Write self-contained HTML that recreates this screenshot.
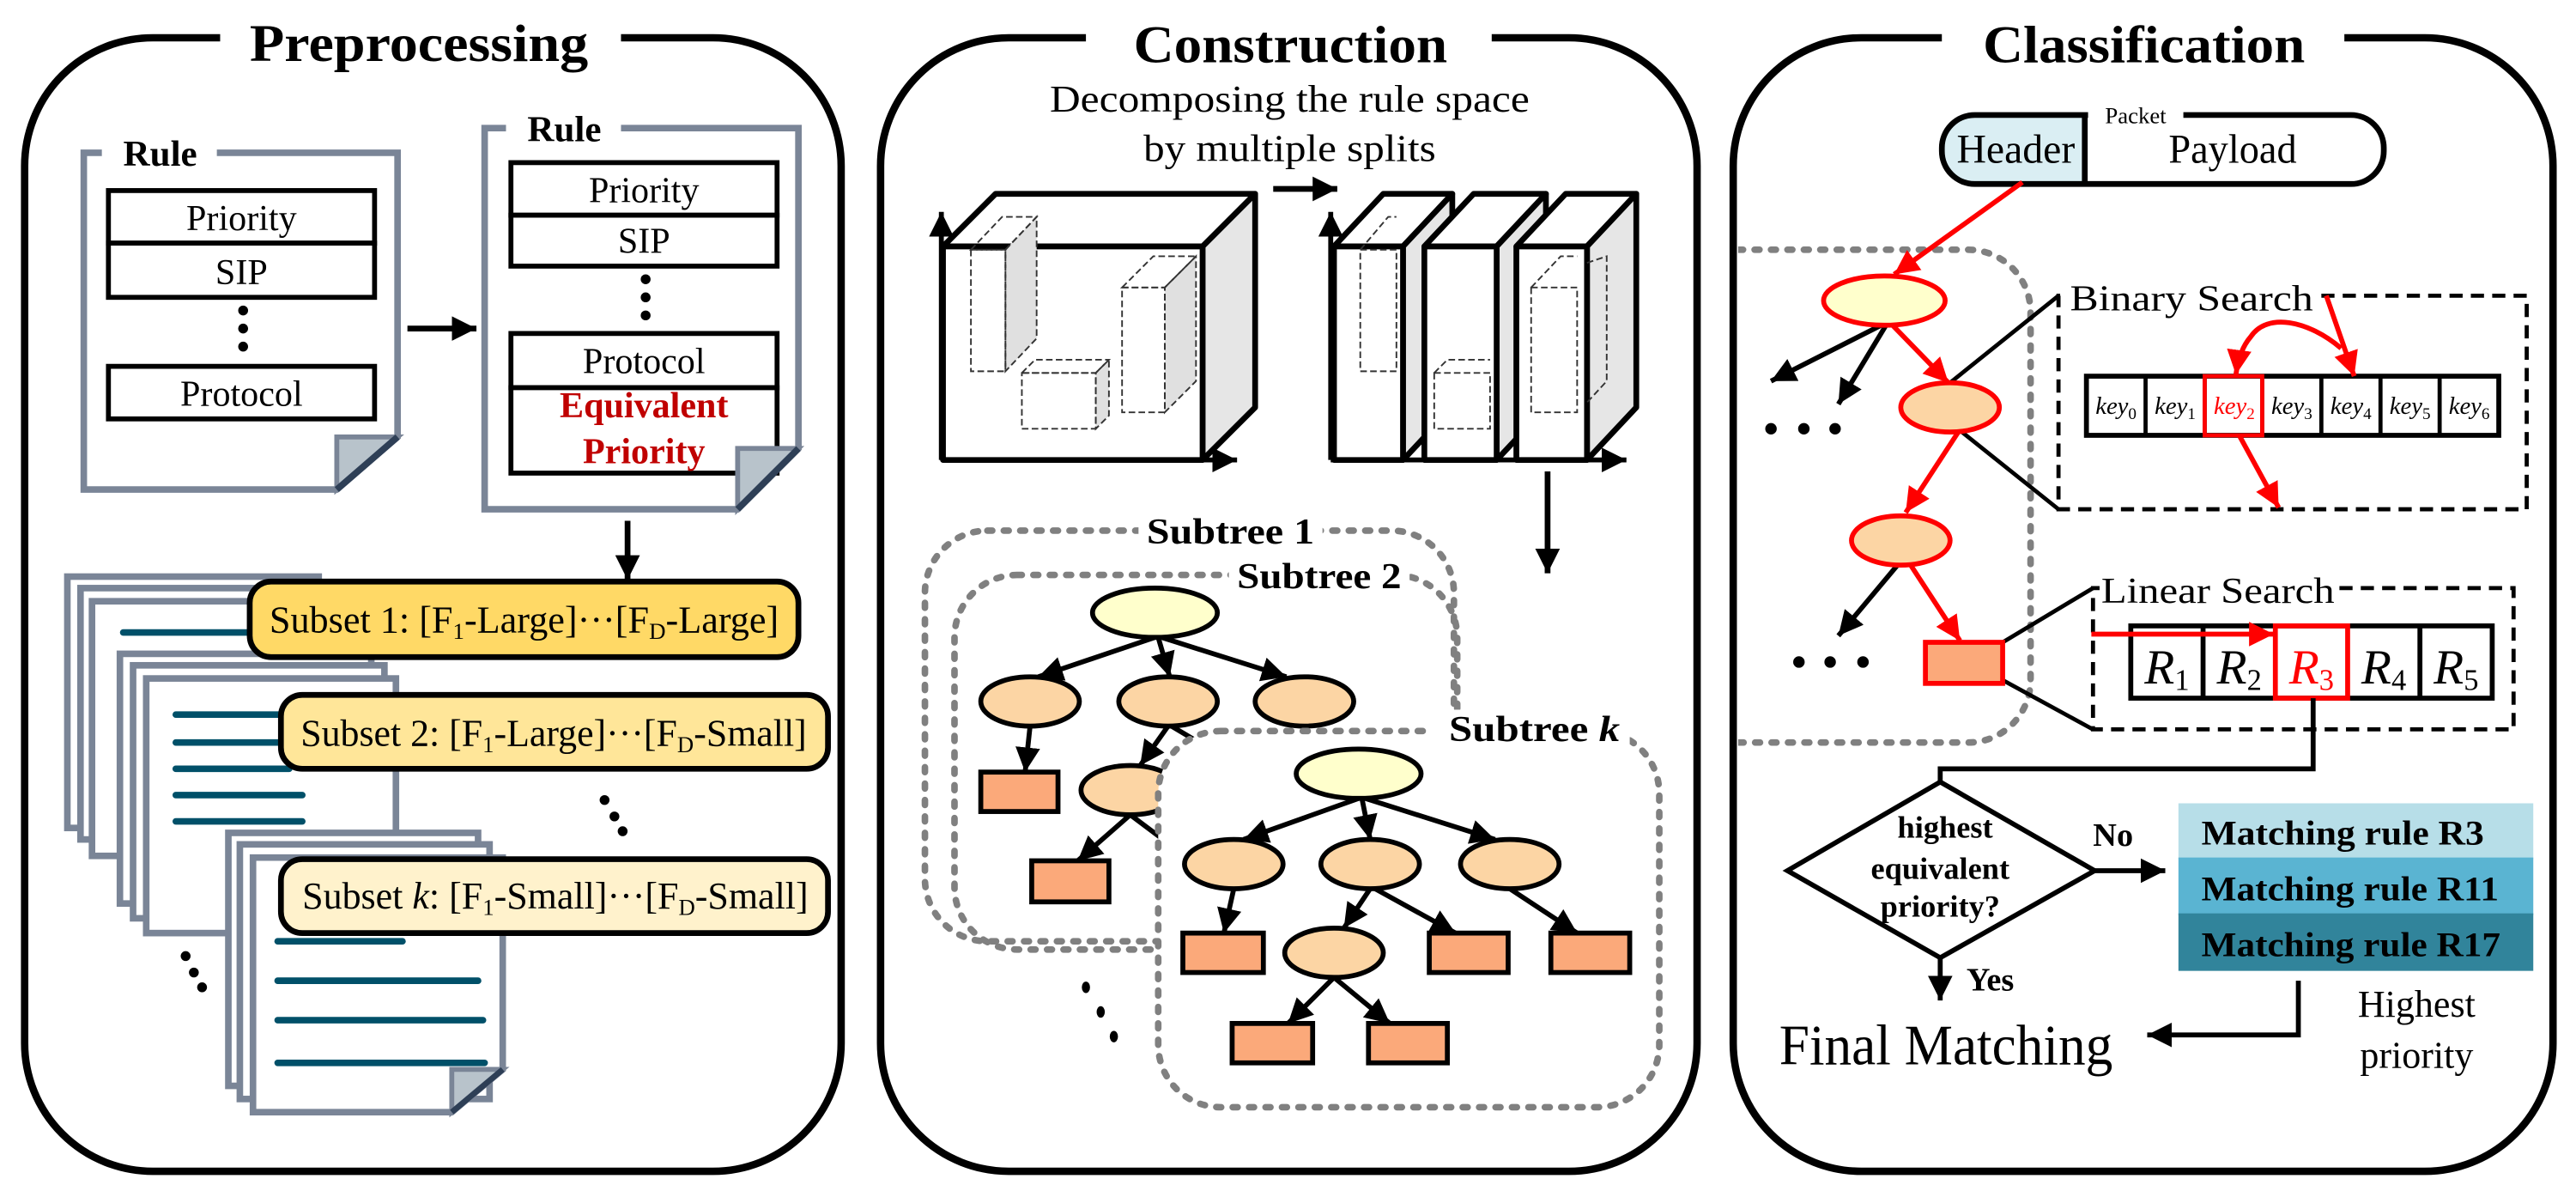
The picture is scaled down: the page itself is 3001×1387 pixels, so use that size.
<!DOCTYPE html>
<html><head><meta charset="utf-8"><style>
html,body{margin:0;padding:0;background:#fff;}
svg{display:block;}
text{font-family:"Liberation Serif",serif;}
.b{font-weight:bold;}
</style></head><body>
<svg width="3001" height="1387" viewBox="0 0 1568 725" preserveAspectRatio="none" xmlns="http://www.w3.org/2000/svg">
<defs>
<marker id="ab" viewBox="0 0 10 10" refX="10" refY="5" markerWidth="15" markerHeight="15" markerUnits="userSpaceOnUse" orient="auto"><path d="M0,0 L10,5 L0,10 z" fill="#000"/></marker>
<marker id="ar" viewBox="0 0 10 10" refX="10" refY="5" markerWidth="15" markerHeight="15" markerUnits="userSpaceOnUse" orient="auto"><path d="M0,0 L10,5 L0,10 z" fill="#f00"/></marker>
<clipPath id="cp3"><rect x="1058" y="100" width="400" height="400"/></clipPath>
</defs>
<rect width="1568" height="725" fill="#fff"/>

<!-- PANELS -->
<g fill="none" stroke="#000" stroke-width="4.5">
<rect x="15" y="23" width="497" height="690" rx="78"/>
<rect x="536" y="23" width="497" height="690" rx="78"/>
<rect x="1055" y="23" width="499" height="690" rx="78"/>
</g>
<rect x="134" y="15" width="244" height="20" fill="#fff"/>
<rect x="661" y="15" width="247" height="20" fill="#fff"/>
<rect x="1182" y="15" width="245" height="20" fill="#fff"/>
<text x="152" y="37" class="b" font-size="32" textLength="206" lengthAdjust="spacingAndGlyphs">Preprocessing</text>
<text x="690" y="38" class="b" font-size="32" textLength="191" lengthAdjust="spacingAndGlyphs">Construction</text>
<text x="1207" y="38" class="b" font-size="32" textLength="196" lengthAdjust="spacingAndGlyphs">Classification</text>

<!-- ===== PREPROCESSING ===== -->
<path d="M62,93 H51 V298 H205 L242,266 V93 H132" fill="#fff" stroke="#7a8597" stroke-width="4"/>
<polygon points="205,266 242,266 205,298" fill="#b8c3cb" stroke="#7a8597" stroke-width="3"/>
<line x1="242" y1="266" x2="205" y2="298" stroke="#2e3f56" stroke-width="4"/>
<text x="75" y="101" class="b" font-size="22" textLength="45" lengthAdjust="spacingAndGlyphs">Rule</text>
<g fill="#fff" stroke="#000" stroke-width="3">
<rect x="66" y="116" width="162" height="32"/><rect x="66" y="148" width="162" height="33"/>
<rect x="66" y="223" width="162" height="32"/></g>
<g font-size="22" text-anchor="middle">
<text x="147" y="140">Priority</text><text x="147" y="173">SIP</text><text x="147" y="247">Protocol</text></g>
<g fill="#000"><circle cx="148" cy="189" r="3"/><circle cx="148" cy="200" r="3"/><circle cx="148" cy="211" r="3"/></g>
<line x1="248" y1="200" x2="290" y2="200" stroke="#000" stroke-width="3.5" marker-end="url(#ab)"/>
<path d="M308,78 H295 V310 H449 L486,273 V78 H378" fill="#fff" stroke="#7a8597" stroke-width="4"/>
<text x="321" y="86" class="b" font-size="22" textLength="45" lengthAdjust="spacingAndGlyphs">Rule</text>
<g fill="#fff" stroke="#000" stroke-width="3">
<rect x="311" y="99" width="162" height="32"/><rect x="311" y="131" width="162" height="31"/>
<rect x="311" y="203" width="162" height="33"/><rect x="311" y="236" width="162" height="52"/></g>
<g font-size="22" text-anchor="middle">
<text x="392" y="123">Priority</text><text x="392" y="154">SIP</text><text x="392" y="227">Protocol</text>
<text x="392" y="254" class="b" fill="#c00000">Equivalent</text><text x="392" y="282" class="b" fill="#c00000">Priority</text></g>
<g fill="#000"><circle cx="393" cy="170" r="3"/><circle cx="393" cy="181" r="3"/><circle cx="393" cy="192" r="3"/></g>
<polygon points="449,273 486,273 449,310" fill="#b8c3cb" stroke="#7a8597" stroke-width="3"/>
<line x1="486" y1="273" x2="449" y2="310" stroke="#2e3f56" stroke-width="4"/>
<line x1="382" y1="317" x2="382" y2="353" stroke="#000" stroke-width="3.5" marker-end="url(#ab)"/>

<g fill="#fff" stroke="#7a8597" stroke-width="4">
<rect x="41" y="351" width="153" height="153"/><rect x="49" y="358" width="153" height="153"/><rect x="56" y="366" width="153" height="155"/>
</g>
<line x1="75" y1="385" x2="152" y2="385" stroke="#005069" stroke-width="4" stroke-linecap="round"/>
<g fill="#fff" stroke="#7a8597" stroke-width="4">
<rect x="73" y="398" width="153" height="152"/><rect x="81" y="405" width="153" height="154"/><rect x="89" y="413" width="152" height="155"/>
</g>
<g stroke="#005069" stroke-width="4" stroke-linecap="round">
<line x1="107" y1="435" x2="184" y2="435"/><line x1="107" y1="452" x2="184" y2="452"/><line x1="107" y1="468" x2="176" y2="468"/><line x1="107" y1="484" x2="184" y2="484"/><line x1="107" y1="500" x2="184" y2="500"/></g>
<rect x="152" y="354" width="334" height="46" rx="13" fill="#ffd966" stroke="#000" stroke-width="3.5"/>
<text x="164" y="385" font-size="23" textLength="310" lengthAdjust="spacingAndGlyphs">Subset 1: [F<tspan font-size="14" dy="4">1</tspan><tspan dy="-4">-Large]···[F</tspan><tspan font-size="14" dy="4">D</tspan><tspan dy="-4">-Large]</tspan></text>
<rect x="171" y="423" width="333" height="45" rx="13" fill="#ffe699" stroke="#000" stroke-width="3.5"/>
<text x="183" y="454" font-size="23" textLength="308" lengthAdjust="spacingAndGlyphs">Subset 2: [F<tspan font-size="14" dy="4">1</tspan><tspan dy="-4">-Large]···[F</tspan><tspan font-size="14" dy="4">D</tspan><tspan dy="-4">-Small]</tspan></text>
<g fill="#000"><circle cx="368" cy="487" r="3"/><circle cx="374" cy="497" r="3"/><circle cx="379" cy="506" r="3"/></g>
<g fill="#fff" stroke="#7a8597" stroke-width="4">
<rect x="139" y="507" width="152" height="154"/><rect x="146" y="514" width="152" height="155"/>
<path d="M154,522 H306 V651 L275,677 H154 Z"/></g>
<polygon points="275,651 306,651 275,677" fill="#b8c3cb" stroke="#7a8597" stroke-width="3"/>
<line x1="306" y1="651" x2="275" y2="677" stroke="#2e3f56" stroke-width="3.5"/>
<g stroke="#005069" stroke-width="4" stroke-linecap="round">
<line x1="169" y1="573" x2="245" y2="573"/><line x1="169" y1="597" x2="291" y2="597"/><line x1="169" y1="621" x2="294" y2="621"/><line x1="169" y1="647" x2="295" y2="647"/></g>
<rect x="171" y="523" width="333" height="45" rx="13" fill="#fff2cc" stroke="#000" stroke-width="3.5"/>
<text x="184" y="553" font-size="23" textLength="308" lengthAdjust="spacingAndGlyphs">Subset <tspan font-style="italic">k</tspan>: [F<tspan font-size="14" dy="4">1</tspan><tspan dy="-4">-Small]···[F</tspan><tspan font-size="14" dy="4">D</tspan><tspan dy="-4">-Small]</tspan></text>
<g fill="#000"><circle cx="113" cy="582" r="3"/><circle cx="118" cy="592" r="3"/><circle cx="123" cy="601" r="3"/></g>

<!-- ===== CONSTRUCTION ===== -->
<g font-size="23" text-anchor="middle">
<text x="785" y="68" textLength="292" lengthAdjust="spacingAndGlyphs">Decomposing the rule space</text>
<text x="785" y="98" textLength="178" lengthAdjust="spacingAndGlyphs">by multiple splits</text></g>
<g stroke="#000" stroke-width="3.5" stroke-linejoin="round">
<polygon points="574,150 606,118 764,118 732,150" fill="#fff"/>
<polygon points="732,150 764,118 764,248 732,280" fill="#e6e6e6"/>
<rect x="574" y="150" width="158" height="130" fill="#fff"/></g>
<g fill="none" stroke="#333" stroke-width="1" stroke-dasharray="4 2">
<polygon points="612,152 631,132 631,206 612,226" fill="#e0e0e0"/><polygon points="591,152 610,132 631,132 612,152"/><rect x="591" y="152" width="21" height="74"/>
<polygon points="667,227 675,219 675,253 667,261" fill="#e0e0e0"/><polygon points="622,227 630,219 675,219 667,227"/><rect x="622" y="227" width="45" height="34"/>
<polygon points="709,175 728,156 728,232 709,251" fill="#e0e0e0"/><polygon points="683,175 702,156 728,156 709,175"/><rect x="683" y="175" width="26" height="76"/>
</g>
<line x1="573" y1="280" x2="573" y2="129" stroke="#000" stroke-width="3" marker-end="url(#ab)"/>
<line x1="574" y1="280" x2="753" y2="280" stroke="#000" stroke-width="3" marker-end="url(#ab)"/>
<line x1="775" y1="115" x2="814" y2="115" stroke="#000" stroke-width="3.5" marker-end="url(#ab)"/>
<g stroke="#000" stroke-width="3.5" stroke-linejoin="round">
<polygon points="812,150 842,118 884,118 854,150" fill="#fff"/><polygon points="854,150 884,118 884,248 854,280" fill="#e6e6e6"/><rect x="812" y="150" width="42" height="130" fill="#fff"/>
<polygon points="867,150 897,118 941,118 911,150" fill="#fff"/><polygon points="911,150 941,118 941,248 911,280" fill="#e6e6e6"/><rect x="867" y="150" width="44" height="130" fill="#fff"/>
<polygon points="923,150 953,118 996,118 966,150" fill="#fff"/><polygon points="966,150 996,118 996,248 966,280" fill="#e6e6e6"/><rect x="923" y="150" width="43" height="130" fill="#fff"/>
</g>
<g fill="none" stroke="#333" stroke-width="1" stroke-dasharray="4 2">
<rect x="828" y="152" width="22" height="74"/><polyline points="828,152 845,132 850,132"/>
<rect x="873" y="227" width="34" height="34"/><polyline points="873,227 881,219 907,219"/>
<rect x="932" y="175" width="28" height="76"/><polyline points="932,175 950,156 960,156"/><polyline points="966,160 978,156 978,232 966,245"/>
</g>
<line x1="810" y1="280" x2="810" y2="129" stroke="#000" stroke-width="3" marker-end="url(#ab)"/>
<line x1="810" y1="280" x2="990" y2="280" stroke="#000" stroke-width="3" marker-end="url(#ab)"/>
<line x1="942" y1="287" x2="942" y2="349" stroke="#000" stroke-width="3.5" marker-end="url(#ab)"/>

<g fill="none" stroke="#808080" stroke-width="4" stroke-linecap="round" stroke-dasharray="3 7">
<rect x="563" y="323" width="322" height="250" rx="38"/>
<rect x="581" y="350" width="306" height="228" rx="38"/></g>
<rect x="693" y="310" width="112" height="22" fill="#fff"/>
<rect x="748" y="338" width="110" height="22" fill="#fff"/>
<text x="698" y="331" class="b" font-size="22" textLength="102" lengthAdjust="spacingAndGlyphs">Subtree 1</text>
<text x="753" y="358" class="b" font-size="22" textLength="100" lengthAdjust="spacingAndGlyphs">Subtree 2</text>
<g stroke="#000" stroke-width="3" marker-end="url(#ab)">
<line x1="703" y1="388" x2="632" y2="412"/><line x1="705" y1="388" x2="712" y2="412"/><line x1="707" y1="388" x2="783" y2="412"/>
<line x1="627" y1="442" x2="624" y2="470"/><line x1="711" y1="442" x2="694" y2="466"/><line x1="688" y1="496" x2="656" y2="524"/>
</g>
<line x1="688" y1="496" x2="720" y2="520" stroke="#000" stroke-width="3"/>
<line x1="713" y1="442" x2="740" y2="458" stroke="#000" stroke-width="3"/>
<g stroke="#000" stroke-width="3">
<ellipse cx="703" cy="373" rx="38" ry="15" fill="#ffffcc"/>
<ellipse cx="627" cy="427" rx="30" ry="15" fill="#fcd5a4"/><ellipse cx="711" cy="427" rx="30" ry="15" fill="#fcd5a4"/><ellipse cx="794" cy="427" rx="30" ry="15" fill="#fcd5a4"/>
<ellipse cx="688" cy="481" rx="30" ry="15" fill="#fcd5a4"/>
<rect x="597" y="470" width="47" height="24" fill="#fba97a"/><rect x="628" y="524" width="47" height="25" fill="#fba97a"/></g>
<rect x="705" y="445" width="305" height="229" rx="38" fill="#fff" stroke="#808080" stroke-width="4" stroke-linecap="round" stroke-dasharray="3 7"/>
<rect x="870" y="432" width="122" height="24" fill="#fff"/>
<text x="882" y="451" class="b" font-size="22" textLength="104" lengthAdjust="spacingAndGlyphs">Subtree <tspan font-style="italic">k</tspan></text>
<g stroke="#000" stroke-width="3" marker-end="url(#ab)">
<line x1="827" y1="486" x2="757" y2="511"/><line x1="829" y1="486" x2="834" y2="511"/><line x1="831" y1="486" x2="910" y2="511"/>
<line x1="751" y1="541" x2="745" y2="568"/><line x1="834" y1="541" x2="818" y2="565"/><line x1="837" y1="541" x2="886" y2="568"/>
<line x1="919" y1="541" x2="960" y2="568"/><line x1="812" y1="595" x2="784" y2="623"/><line x1="812" y1="595" x2="846" y2="623"/>
</g>
<g stroke="#000" stroke-width="3">
<ellipse cx="827" cy="471" rx="38" ry="15" fill="#ffffcc"/>
<ellipse cx="751" cy="526" rx="30" ry="15" fill="#fcd5a4"/><ellipse cx="834" cy="526" rx="30" ry="15" fill="#fcd5a4"/><ellipse cx="919" cy="526" rx="30" ry="15" fill="#fcd5a4"/>
<ellipse cx="812" cy="580" rx="30" ry="15" fill="#fcd5a4"/>
<rect x="720" y="568" width="49" height="24" fill="#fba97a"/><rect x="870" y="568" width="48" height="24" fill="#fba97a"/><rect x="944" y="568" width="48" height="24" fill="#fba97a"/>
<rect x="750" y="623" width="49" height="24" fill="#fba97a"/><rect x="833" y="623" width="48" height="24" fill="#fba97a"/></g>
<g fill="#000"><ellipse cx="661" cy="601" rx="2.5" ry="3.5"/><ellipse cx="670" cy="616" rx="2.5" ry="3.5"/><ellipse cx="678" cy="631" rx="2.5" ry="3.5"/></g>

<!-- ===== CLASSIFICATION ===== -->
<path d="M1269,70 H1202 A20,20 0 0 0 1182,90 V92 A20,20 0 0 0 1202,112 H1269 Z" fill="#daeef3"/>
<rect x="1182" y="70" width="269" height="42" rx="20" fill="none" stroke="#000" stroke-width="3.5"/>
<line x1="1269" y1="70" x2="1269" y2="112" stroke="#000" stroke-width="3.5"/>
<rect x="1271" y="64" width="58" height="10" fill="#fff"/>
<text x="1300" y="75" font-size="14" text-anchor="middle">Packet</text>
<text x="1227" y="99" font-size="25" text-anchor="middle" textLength="72" lengthAdjust="spacingAndGlyphs">Header</text>
<text x="1359" y="99" font-size="25" text-anchor="middle" textLength="78" lengthAdjust="spacingAndGlyphs">Payload</text>
<rect x="1000" y="152" width="236" height="300" rx="38" fill="none" stroke="#808080" stroke-width="4" stroke-linecap="round" stroke-dasharray="3 7" clip-path="url(#cp3)"/>
<line x1="1231" y1="111" x2="1153" y2="167" stroke="#f00" stroke-width="3" marker-end="url(#ar)"/>
<g stroke="#000" stroke-width="3" marker-end="url(#ab)">
<line x1="1145" y1="198" x2="1078" y2="232"/><line x1="1148" y1="198" x2="1119" y2="246"/><line x1="1155" y1="344" x2="1119" y2="387"/></g>
<g fill="#000"><circle cx="1078" cy="261" r="3.5"/><circle cx="1098" cy="261" r="3.5"/><circle cx="1117" cy="261" r="3.5"/>
<circle cx="1095" cy="403" r="3.5"/><circle cx="1114" cy="403" r="3.5"/><circle cx="1134" cy="403" r="3.5"/></g>
<g stroke="#000" stroke-width="2.5" fill="none">
<polyline points="1187,233 1253,180"/><polyline points="1193,262 1253,310"/>
<polyline points="1219,391 1274,358"/><polyline points="1219,414 1274,444"/></g>
<g stroke="#f00" stroke-width="3" marker-end="url(#ar)">
<line x1="1152" y1="198" x2="1186" y2="233"/><line x1="1192" y1="263" x2="1160" y2="312"/><line x1="1163" y1="344" x2="1193" y2="390"/></g>
<g stroke="#f00" stroke-width="3">
<ellipse cx="1147" cy="183" rx="37" ry="15" fill="#ffffcc"/>
<ellipse cx="1187" cy="248" rx="30" ry="15" fill="#fcd5a4"/>
<ellipse cx="1157" cy="329" rx="30" ry="15" fill="#fcd5a4"/>
<rect x="1172" y="391" width="47" height="25" fill="#fba97a"/></g>
<polyline points="1413,180 1538,180 1538,310 1253,310 1253,180 1258,180" fill="none" stroke="#000" stroke-width="2.5" stroke-dasharray="8 5"/>
<text x="1260" y="189" font-size="22" textLength="148" lengthAdjust="spacingAndGlyphs">Binary Search</text>
<rect x="1270" y="229" width="251" height="36" fill="#fff" stroke="#000" stroke-width="3"/>
<g stroke="#000" stroke-width="2.5">
<line x1="1306" y1="229" x2="1306" y2="265"/><line x1="1342" y1="229" x2="1342" y2="265"/><line x1="1377" y1="229" x2="1377" y2="265"/><line x1="1413" y1="229" x2="1413" y2="265"/><line x1="1449" y1="229" x2="1449" y2="265"/><line x1="1485" y1="229" x2="1485" y2="265"/></g>
<rect x="1342" y="229" width="35" height="36" fill="none" stroke="#f00" stroke-width="2.5"/>
<g font-size="15" font-style="italic" text-anchor="middle">
<text x="1288" y="252">key<tspan font-size="10" font-style="normal" dy="3">0</tspan></text>
<text x="1324" y="252">key<tspan font-size="10" font-style="normal" dy="3">1</tspan></text>
<text x="1360" y="252" fill="#f00">key<tspan font-size="10" font-style="normal" dy="3">2</tspan></text>
<text x="1395" y="252">key<tspan font-size="10" font-style="normal" dy="3">3</tspan></text>
<text x="1431" y="252">key<tspan font-size="10" font-style="normal" dy="3">4</tspan></text>
<text x="1467" y="252">key<tspan font-size="10" font-style="normal" dy="3">5</tspan></text>
<text x="1503" y="252">key<tspan font-size="10" font-style="normal" dy="3">6</tspan></text></g>
<g stroke="#f00" stroke-width="3" fill="none" marker-end="url(#ar)">
<line x1="1416" y1="180" x2="1433" y2="229"/>
<path d="M1425,212 C1405,195 1380,190 1370,205 Q1363,213 1361,228"/>
<line x1="1363" y1="265" x2="1387" y2="309"/></g>
<polyline points="1424,358 1530,358 1530,444 1274,444 1274,358 1278,358" fill="none" stroke="#000" stroke-width="2.5" stroke-dasharray="8 5"/>
<text x="1279" y="367" font-size="22" textLength="142" lengthAdjust="spacingAndGlyphs">Linear Search</text>
<rect x="1297" y="381" width="220" height="44" fill="#fff" stroke="#000" stroke-width="3"/>
<g stroke="#000" stroke-width="3"><line x1="1341" y1="381" x2="1341" y2="425"/><line x1="1473" y1="381" x2="1473" y2="425"/></g>
<rect x="1385" y="381" width="44" height="44" fill="none" stroke="#f00" stroke-width="3"/>
<g font-size="30" font-style="italic" text-anchor="middle">
<text x="1319" y="416">R<tspan font-size="18" font-style="normal" dy="4">1</tspan></text>
<text x="1363" y="416">R<tspan font-size="18" font-style="normal" dy="4">2</tspan></text>
<text x="1407" y="416" fill="#f00">R<tspan font-size="18" font-style="normal" dy="4">3</tspan></text>
<text x="1451" y="416">R<tspan font-size="18" font-style="normal" dy="4">4</tspan></text>
<text x="1495" y="416">R<tspan font-size="18" font-style="normal" dy="4">5</tspan></text></g>
<line x1="1273" y1="386" x2="1384" y2="386" stroke="#f00" stroke-width="3" marker-end="url(#ar)"/>
<polyline points="1408,425 1408,468 1181,468 1181,476" fill="none" stroke="#000" stroke-width="3"/>
<polygon points="1181,476 1275,530 1181,583 1088,530" fill="#fff" stroke="#000" stroke-width="3"/>
<g class="b" font-size="19" text-anchor="middle">
<text x="1184" y="510">highest</text><text x="1181" y="535">equivalent</text><text x="1181" y="558">priority?</text></g>
<line x1="1275" y1="530" x2="1318" y2="530" stroke="#000" stroke-width="3" marker-end="url(#ab)"/>
<text x="1274" y="515" class="b" font-size="20">No</text>
<line x1="1181" y1="583" x2="1181" y2="609" stroke="#000" stroke-width="3" marker-end="url(#ab)"/>
<text x="1197" y="603" class="b" font-size="20">Yes</text>
<rect x="1326" y="489" width="216" height="34" fill="#b7dee8"/>
<rect x="1326" y="522" width="216" height="35" fill="#5ab4d2"/>
<rect x="1326" y="556" width="216" height="35" fill="#31849b"/>
<g class="b" font-size="21">
<text x="1340" y="514" textLength="172" lengthAdjust="spacingAndGlyphs">Matching rule  R3</text>
<text x="1340" y="548" textLength="181" lengthAdjust="spacingAndGlyphs">Matching rule  R11</text>
<text x="1340" y="582" textLength="182" lengthAdjust="spacingAndGlyphs">Matching rule  R17</text></g>
<polyline points="1399,597 1399,630 1307,630" fill="none" stroke="#000" stroke-width="3" marker-end="url(#ab)"/>
<text x="1083" y="648" font-size="35" textLength="203" lengthAdjust="spacingAndGlyphs">Final Matching</text>
<g font-size="23" text-anchor="middle">
<text x="1471" y="619">Highest</text><text x="1471" y="650">priority</text></g>
</svg>
</body></html>
